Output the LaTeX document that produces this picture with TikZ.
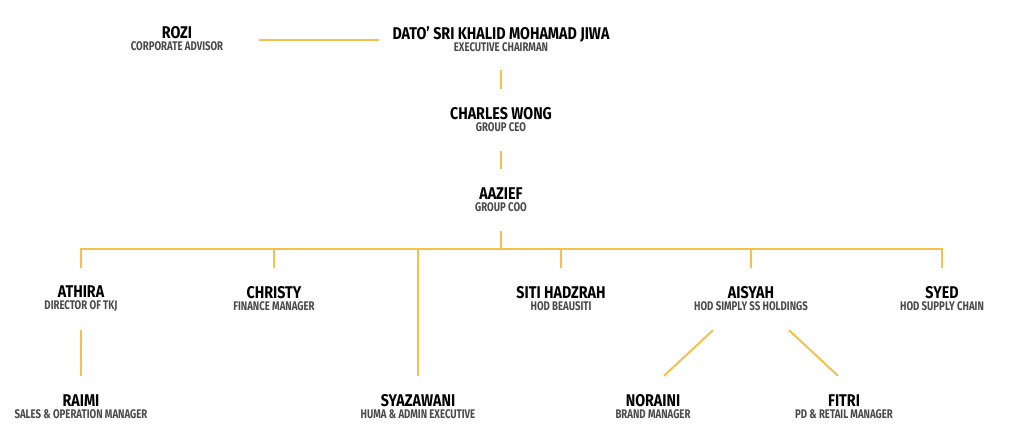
\documentclass[tikz,border=0pt]{standalone}
\usepackage{fontspec}
\setmainfont[FakeStretch=0.77]{Fira Sans}
\newfontfamily\namefont[FakeStretch=0.84,Ligatures=TeX]{Fira Sans}
\definecolor{orgline}{HTML}{F5C14E}
\definecolor{orgtitle}{HTML}{4A4A4A}
\newcommand{\person}[2]{{\namefont\fontsize{17}{17}\selectfont\bfseries #1}\\{\fontsize{12.5}{13}\selectfont\bfseries\color{orgtitle}#2}}

\begin{document}
\begin{tikzpicture}[x=1pt,y=-1pt]
  \tikzset{person/.style={align=center, inner xsep=0pt, inner ysep=0pt, minimum height=62pt, text=black}}
  \tikzset{link/.style={draw=orgline, line width=2pt}}

  \useasboundingbox (0,0) rectangle (1024,437);

  \node[person] (rozi) at (177,39) {\person{ROZI}{CORPORATE ADVISOR}};
  \node[person] (dato) at (501,39) {\person{DATO’ SRI KHALID MOHAMAD JIWA}{EXECUTIVE CHAIRMAN}};
  \node[person] (ceo) at (501,120) {\person{CHARLES WONG}{GROUP CEO}};
  \node[person] (coo) at (501,200) {\person{AAZIEF}{GROUP COO}};

  \node[person] (athira) at (81,299) {\person{ATHIRA}{DIRECTOR OF TKJ}};
  \node[person] (christy) at (274,299) {\person{CHRISTY}{FINANCE MANAGER}};
  \node[person] (siti) at (561,299) {\person{SITI HADZRAH}{HOD BEAUSITI}};
  \node[person] (aisyah) at (751,299) {\person{AISYAH}{HOD SIMPLY SS HOLDINGS}};
  \node[person] (syed) at (942,299) {\person{SYED}{HOD SUPPLY CHAIN}};

  \node[person] (raimi) at (81,407) {\person{RAIMI}{SALES \& OPERATION MANAGER}};
  \node[person] (syazawani) at (418,407) {\person{SYAZAWANI}{HUMA \& ADMIN EXECUTIVE}};
  \node[person] (noraini) at (653,407) {\person{NORAINI}{BRAND MANAGER}};
  \node[person] (fitri) at (844,407) {\person{FITRI}{PD \& RETAIL MANAGER}};

  \coordinate (bus) at (501,249);

  \draw[link] ([xshift=82pt,yshift=-1pt]rozi.center) -- ([xshift=-122pt,yshift=-1pt]dato.center);
  \draw[link] (dato.south) -- (ceo.north);
  \draw[link] (ceo.south) -- (coo.north);
  \draw[link] (coo.south) -- (bus);
  \draw[link] (athira.north) |- (bus) -| (syed.north);
  \foreach \n in {christy,syazawani,siti,aisyah}
    \draw[link] (\n.north |- bus) -- (\n.north);
  \draw[link] (athira.south) -- (raimi.north);
  \draw[link] ([xshift=-38pt]aisyah.south) -- ([xshift=11pt]noraini.north);
  \draw[link] ([xshift=38pt]aisyah.south) -- ([xshift=-6pt]fitri.north);
\end{tikzpicture}
\end{document}
